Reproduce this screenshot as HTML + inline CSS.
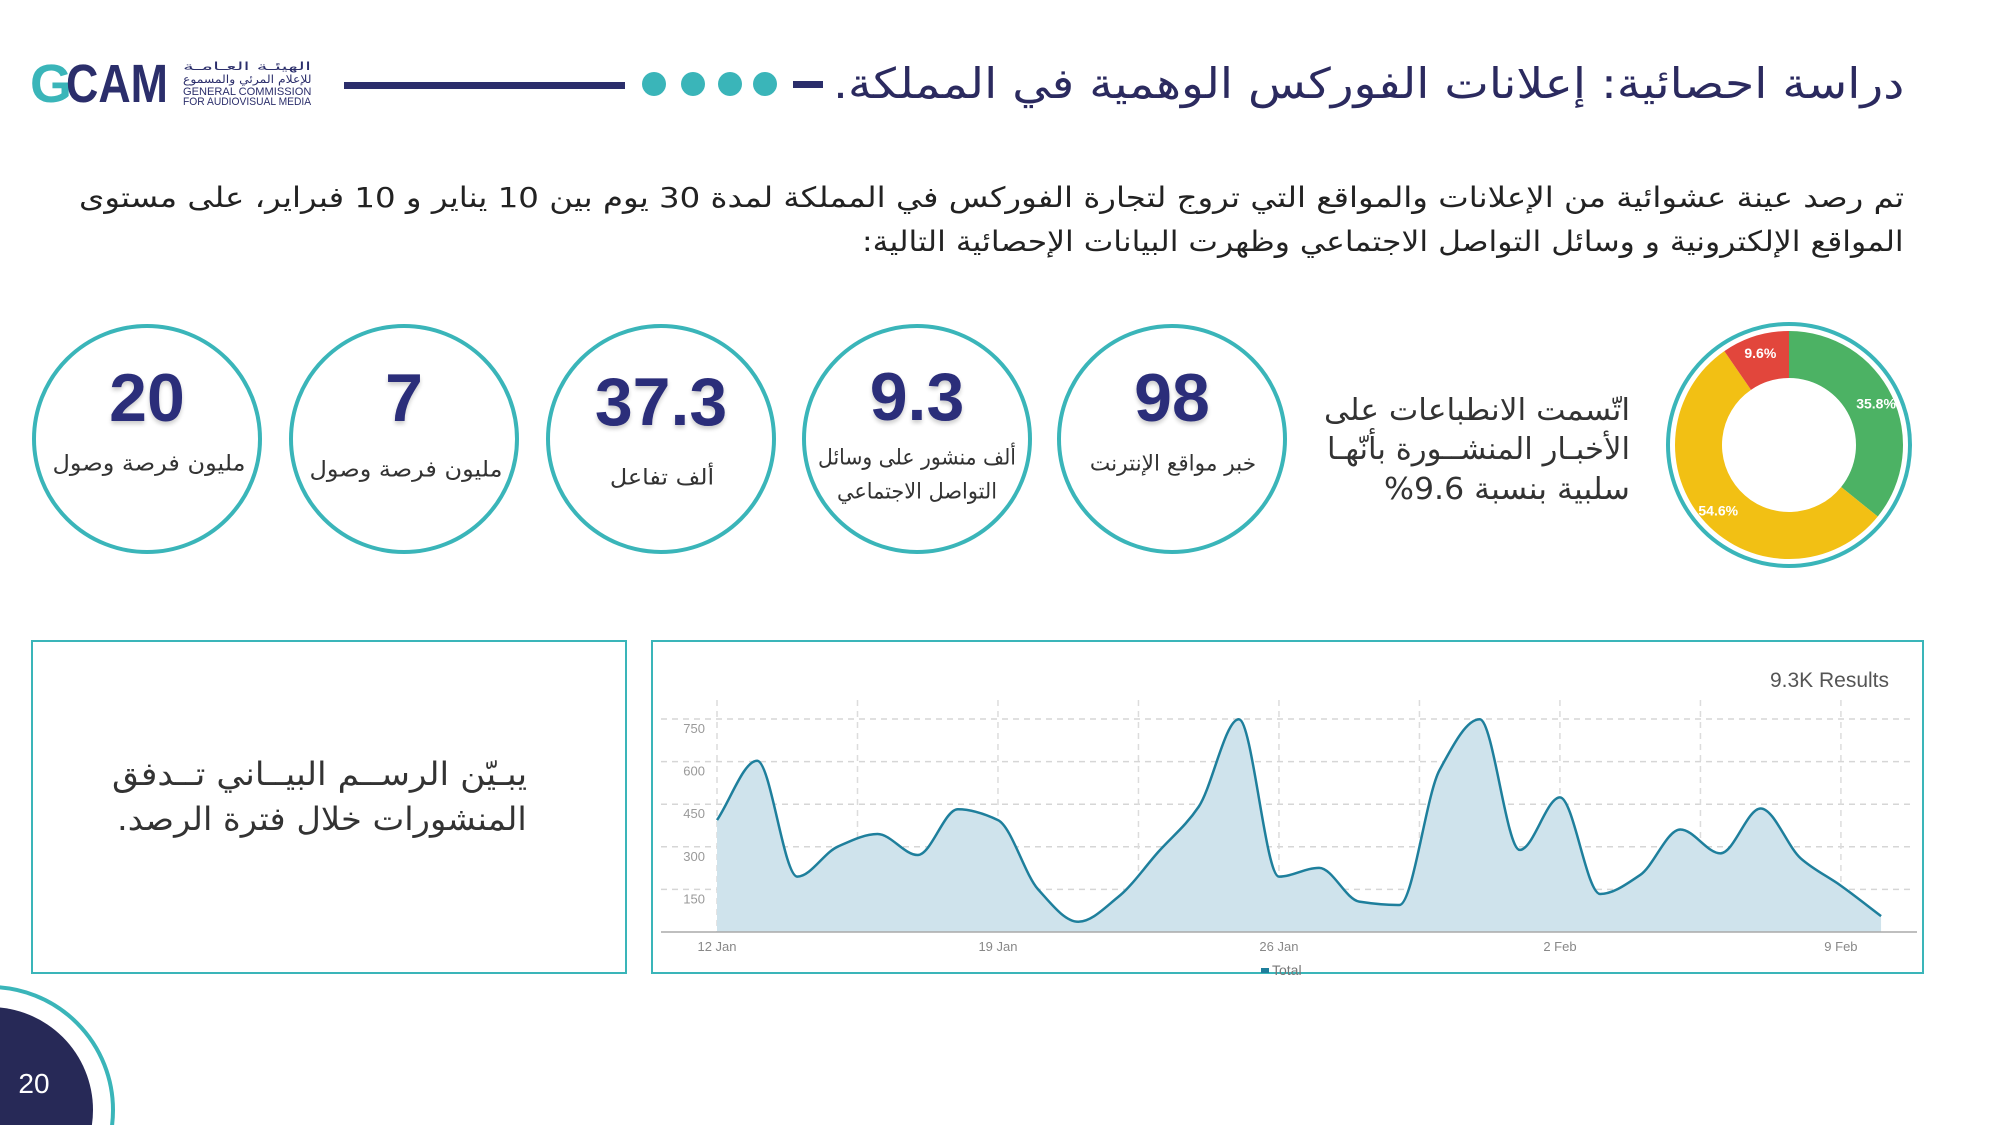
<!DOCTYPE html>
<html><head><meta charset="utf-8">
<style>
html,body{margin:0;width:2000px;height:1125px;overflow:hidden;}
body{background:#fff;position:relative;font-family:"DejaVu Sans",sans-serif;}
.ar{position:absolute;white-space:nowrap;direction:rtl;transform-origin:right center;color:#2b2a4f;}
.circ{position:absolute;width:230px;height:230px;border:4px solid #3ab5b9;border-radius:50%;box-sizing:border-box;}
.num{position:absolute;font-family:"Liberation Sans",sans-serif;font-weight:bold;color:#2b2e7a;font-size:68px;transform:translate(-50%,-50%);white-space:nowrap;text-shadow:0 3px 4px rgba(0,0,0,0.2);}
.lbl{position:absolute;white-space:nowrap;direction:rtl;color:#333;font-size:22px;transform-origin:center center;}
.box{position:absolute;border:2px solid #3ab5b9;box-sizing:border-box;}
.lg{position:absolute;white-space:nowrap;color:#2b2e6b;transform-origin:left center;}
</style></head><body>
<div style="position:absolute;left:30px;top:60px;width:290px;height:50px;overflow:hidden;">
 <svg width="150" height="50" style="position:absolute;left:0;top:0;">
  <text x="0" y="42" font-family="Liberation Sans" font-weight="bold" font-size="54" fill="#3ab5b9" textLength="42" lengthAdjust="spacingAndGlyphs">G</text>
  <text x="36" y="42" font-family="Liberation Sans" font-weight="bold" font-size="54" fill="#2b2e6b" textLength="102" lengthAdjust="spacingAndGlyphs">CAM</text>
 </svg>
 <div class="lg fit2" data-w="128" style="left:153px;top:0px;font-size:11px;line-height:13px;direction:rtl;">الهيئـة العـامـة</div>
 <div class="lg fit2" data-w="128" style="left:153px;top:13px;font-size:11px;line-height:13px;direction:rtl;">للإعلام المرئي والمسموع</div>
 <div class="lg fit2" data-w="128" style="left:153px;top:27px;font-size:11px;line-height:11px;font-family:'Liberation Sans';">GENERAL  COMMISSION</div>
 <div class="lg fit2" data-w="128" style="left:153px;top:37px;font-size:11px;line-height:11px;font-family:'Liberation Sans';">FOR AUDIOVISUAL MEDIA</div>
</div>
<div style="position:absolute;left:344px;top:82px;width:281px;height:7px;background:#2b2e6b;"></div>
<div style="position:absolute;left:642px;top:72px;width:24px;height:24px;border-radius:50%;background:#3ab5b9;"></div>
<div style="position:absolute;left:681px;top:72px;width:24px;height:24px;border-radius:50%;background:#3ab5b9;"></div>
<div style="position:absolute;left:718px;top:72px;width:24px;height:24px;border-radius:50%;background:#3ab5b9;"></div>
<div style="position:absolute;left:753px;top:72px;width:24px;height:24px;border-radius:50%;background:#3ab5b9;"></div>
<div style="position:absolute;left:793px;top:81px;width:30px;height:7px;background:#2b2e6b;"></div>

<div class="ar fit" data-w="1071" style="right:96px;top:56px;font-size:42px;line-height:56px;color:#2b2a5f;">دراسة احصائية:  إعلانات الفوركس الوهمية في المملكة.</div>
<div class="ar fit" data-w="1825" style="right:96px;top:178px;font-size:28px;line-height:40px;color:#222;">تم رصد عينة عشوائية من  الإعلانات والمواقع التي تروج لتجارة الفوركس في المملكة لمدة 30 يوم بين 10 يناير و 10 فبراير، على مستوى</div>
<div class="ar fit" data-w="1042" style="right:96px;top:222px;font-size:28px;line-height:40px;color:#222;">المواقع الإلكترونية و وسائل التواصل الاجتماعي وظهرت البيانات الإحصائية التالية:</div>

<div class="circ" style="left:32px;top:324px;"></div>
<div class="num" style="left:147px;top:398px;">20</div>
<div class="lbl fitc" data-w="193" style="left:149px;top:464px;">مليون فرصة وصول</div>

<div class="circ" style="left:289px;top:324px;"></div>
<div class="num" style="left:404px;top:398px;">7</div>
<div class="lbl fitc" data-w="193" style="left:406px;top:470px;">مليون فرصة وصول</div>

<div class="circ" style="left:546px;top:324px;"></div>
<div class="num" style="left:661px;top:402px;">37.3</div>
<div class="lbl fitc" data-w="104" style="left:662px;top:478px;">ألف تفاعل</div>

<div class="circ" style="left:802px;top:324px;"></div>
<div class="num" style="left:917px;top:397px;">9.3</div>
<div class="lbl fitc" data-w="198" style="left:917px;top:458px;">ألف منشور على وسائل</div>
<div class="lbl fitc" data-w="160" style="left:917px;top:492px;">التواصل الاجتماعي</div>

<div class="circ" style="left:1057px;top:324px;"></div>
<div class="num" style="left:1172px;top:398px;">98</div>
<div class="lbl fitc" data-w="166" style="left:1173px;top:464px;">خبر مواقع الإنترنت</div>

<div class="ar fit" data-w="306" style="right:370px;top:391px;font-size:30px;line-height:40px;color:#333;">اتّسمت الانطباعات على</div>
<div class="ar fit" data-w="303" style="right:370px;top:430px;font-size:30px;line-height:40px;color:#333;">الأخبـار المنشــورة بأنّهـا</div>
<div class="ar fit" data-w="246" style="right:370px;top:470px;font-size:30px;line-height:40px;color:#333;">سلبية بنسبة 9.6%</div>

<svg id="donut" style="position:absolute;left:1660px;top:316px;" width="260" height="260"></svg>

<div class="box" style="left:31px;top:640px;width:596px;height:334px;"></div>
<div class="ar fit" data-w="415" style="right:1473px;top:754px;font-size:32px;line-height:40px;color:#333;">يبـيّن الرســم البيــاني تــدفق</div>
<div class="ar fit" data-w="410" style="right:1473px;top:799px;font-size:32px;line-height:40px;color:#333;">المنشورات خلال فترة الرصد.</div>

<div class="box" style="left:651px;top:640px;width:1273px;height:334px;"></div>
<svg id="chart" style="position:absolute;left:0;top:0;" width="2000" height="1125"></svg>

<svg style="position:absolute;left:0;top:960px;display:block;" width="200" height="165">
 <circle cx="-10" cy="150" r="123" fill="none" stroke="#3ab5b9" stroke-width="4"/>
 <circle cx="-10" cy="150" r="103" fill="#272957"/>
 <text x="34" y="133" font-family="Liberation Sans" font-size="28" fill="#fff" text-anchor="middle">20</text>
</svg>

<script>
// ---- chart data ----
const dayLabels=["12 Jan","19 Jan","26 Jan","2 Feb","9 Feb"];
const dayLabelIdx=[0,7,14,21,28];
const postValues=[394,603,195,300,345,271,432,394,150,36,124,283,441,749,195,226,107,95,570,749,289,474,134,201,361,277,435,259,163,56];
const yTicks=[150,300,450,600,750];
const donutLabels=["35.8%","54.6%","9.6%"];
const donutValues=[35.8,54.6,9.6];
const donutColors=["#4cb264","#f2c014","#e2463c"];

const NS="http://www.w3.org/2000/svg";
function mk(parent,tag,attrs){const e=document.createElementNS(NS,tag);for(const k in attrs)e.setAttribute(k,attrs[k]);parent.appendChild(e);return e;}
const X0=717,DX=40.14,Y0=932,KY=213/750;
const xS=d=>X0+d*DX, yS=v=>Y0-v*KY;
const ch=document.getElementById('chart');
yTicks.forEach(t=>{
 const l=mk(ch,'line',{x1:661,x2:1912,y1:yS(t),y2:yS(t),stroke:'#d6d6d6','stroke-width':1.5,'stroke-dasharray':'6 5'});
 
 
 const tx=mk(ch,'text',{x:705,y:yS(t)+14,'text-anchor':'end','font-family':'Liberation Sans','font-size':13,fill:'#999'});
 tx.textContent=t;
 
 
});
for(let d=0;d<=28;d+=3.5){
 const l=mk(ch,'line',{x1:xS(d),x2:xS(d),y1:700,y2:932,stroke:'#dcdcdc','stroke-width':1.5,'stroke-dasharray':'6 5'});
 
 
}
function mono(pts){
 const n=pts.length,dx=[],m=[],t=[];
 for(let i=0;i<n-1;i++){dx.push(pts[i+1][0]-pts[i][0]);m.push((pts[i+1][1]-pts[i][1])/dx[i]);}
 t[0]=m[0];t[n-1]=m[n-2];
 for(let i=1;i<n-1;i++){t[i]=(m[i-1]*m[i]<=0)?0:3*(dx[i-1]+dx[i])/((2*dx[i]+dx[i-1])/m[i-1]+(dx[i]+2*dx[i-1])/m[i]);}
 let p='M'+pts[0][0]+','+pts[0][1];
 for(let i=0;i<n-1;i++){const h=dx[i]/3;p+=` C${pts[i][0]+h},${pts[i][1]+h*t[i]} ${pts[i+1][0]-h},${pts[i+1][1]-h*t[i+1]} ${pts[i+1][0]},${pts[i+1][1]}`;}
 return p;
}
const pts=postValues.map((v,i)=>[xS(i),yS(v)]);
const lp=mono(pts);
const area=mk(ch,'path',{d:lp+` L${xS(postValues.length-1)},${Y0} L${xS(0)},${Y0} Z`,fill:'#cfe3ec'});


const line=mk(ch,'path',{d:lp,fill:'none',stroke:'#1e7f9c','stroke-width':2.5});


const ax=mk(ch,'line',{x1:661,x2:1917,y1:Y0,y2:Y0,stroke:'#aaa','stroke-width':1.5});


dayLabels.forEach((s,i)=>{
 const tx=mk(ch,'text',{x:xS(dayLabelIdx[i]),y:951,'text-anchor':'middle','font-family':'Liberation Sans','font-size':13,fill:'#888'});
 tx.textContent=s;
 
 
});
const res=mk(ch,'text',{x:1889,y:687,'text-anchor':'end','font-family':'Liberation Sans','font-size':21,fill:'#555'});
res.textContent='9.3K Results';


const lgs=mk(ch,'rect',{x:1261,y:968,width:8,height:5,fill:'#1e7f9c'});


const lgt=mk(ch,'text',{x:1272,y:975,'font-family':'Liberation Sans','font-size':14,fill:'#777'});
lgt.textContent='Total';



const dn=document.getElementById('donut');
const cx=129,cy=129,R=114,r=67;
const ring=mk(dn,'circle',{cx,cy,r:121,fill:'none',stroke:'#3ab5b9','stroke-width':4});


const tot=donutValues.reduce((a,b)=>a+b,0);
let a0=-Math.PI/2;
donutValues.forEach((v,i)=>{
 const a1=a0+v/tot*2*Math.PI, lg=(a1-a0)>Math.PI?1:0;
 const P=(rad,a)=>[cx+rad*Math.cos(a),cy+rad*Math.sin(a)];
 const [x1,y1]=P(R,a0),[x2,y2]=P(R,a1),[x3,y3]=P(r,a1),[x4,y4]=P(r,a0);
 const s=mk(dn,'path',{d:`M${x1},${y1} A${R},${R} 0 ${lg} 1 ${x2},${y2} L${x3},${y3} A${r},${r} 0 ${lg} 0 ${x4},${y4} Z`,fill:donutColors[i]});
 
 
 const am=(a0+a1)/2,[lx,ly]=P((R+r)/2+6,am);
 const t=mk(dn,'text',{x:lx,y:ly+5,'text-anchor':'middle','font-family':'Liberation Sans','font-weight':'bold','font-size':14,fill:'#fff'});
 t.textContent=donutLabels[i];
 
 
 a0=a1;
});

document.querySelectorAll('.fit').forEach(e=>{const w=e.scrollWidth;e.style.transform='scaleX('+(e.dataset.w/w)+')';});
document.querySelectorAll('.fit2').forEach(e=>{const w=e.scrollWidth;e.style.transform='scaleX('+(e.dataset.w/w)+')';});
document.querySelectorAll('.fitc').forEach(e=>{const w=e.scrollWidth;e.style.transform='translate(-50%,-50%) scaleX('+(e.dataset.w/w)+')';});
</script>
</body></html>
